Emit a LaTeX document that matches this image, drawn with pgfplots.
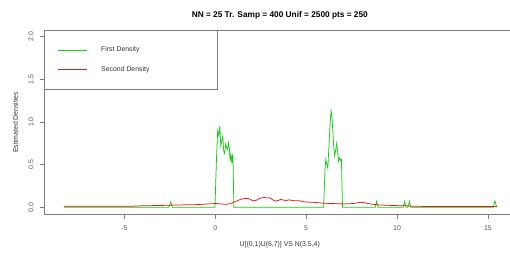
\documentclass[border=0pt]{standalone}
\usepackage{fontspec}
\setmainfont{Liberation Sans}
\usepackage{pgfplots}
\pgfplotsset{compat=1.18}
\definecolor{axgray}{RGB}{125,125,125}
\definecolor{tkgray}{RGB}{85,85,85}
\definecolor{rgreen}{RGB}{20,205,20}
\definecolor{rred}{RGB}{240,20,20}
\pgfplotstableread{
x y
-8.33 0
-2.56 0
-2.46 0.065
-2.36 0
-0.02 0
0.06 0.55
0.13 0.90
0.19 0.84
0.25 0.95
0.30 0.72
0.36 0.78
0.41 0.83
0.46 0.66
0.51 0.63
0.57 0.74
0.62 0.70
0.67 0.68
0.72 0.76
0.77 0.70
0.81 0.54
0.86 0.62
0.91 0.52
0.95 0.62
0.98 0.50
1.02 0.0
5.96 0
6.04 0.45
6.08 0.56
6.14 0.50
6.19 0.46
6.25 0.70
6.31 0.95
6.37 1.13
6.42 1.06
6.47 0.88
6.52 0.70
6.57 0.60
6.63 0.68
6.68 0.75
6.73 0.66
6.78 0.54
6.83 0.58
6.89 0.55
6.94 0.56
7.00 0.0
8.80 0
8.88 0.07
8.96 0
10.34 0
10.42 0.07
10.50 0
10.60 0
10.68 0.07
10.76 0
15.30 0
15.39 0.077
15.49 0
}\firstdens
\pgfplotstableread{
x y
-8.33 0.012
-6.0 0.012
-4.5 0.014
-4.0 0.018
-3.0 0.022
-2.0 0.028
-1.5 0.030
-1.0 0.032
-0.5 0.038
0.0 0.045
0.2 0.042
0.4 0.038
0.6 0.036
0.8 0.042
1.0 0.058
1.2 0.075
1.4 0.095
1.6 0.102
1.8 0.105
1.95 0.090
2.1 0.075
2.25 0.082
2.4 0.100
2.55 0.112
2.7 0.115
2.85 0.110
3.0 0.112
3.15 0.090
3.3 0.072
3.45 0.080
3.6 0.092
3.75 0.085
3.9 0.080
4.05 0.088
4.2 0.082
4.4 0.076
4.6 0.078
4.8 0.068
5.0 0.062
5.3 0.060
5.6 0.055
5.9 0.050
6.2 0.046
6.5 0.044
6.8 0.042
7.1 0.040
7.4 0.042
7.7 0.048
7.9 0.055
8.05 0.060
8.2 0.054
8.4 0.045
8.7 0.035
9.0 0.028
9.5 0.024
10.0 0.020
10.5 0.018
11.0 0.012
12.0 0.010
13.0 0.010
14.0 0.010
15.49 0.010
}\seconddens
\begin{document}
\begin{tikzpicture}[x=1bp,y=1bp]
\path[use as bounding box] (0,0) rectangle (510,257);
\begin{axis}[
  at={(44bp,42.5bp)}, anchor=south west,
  scale only axis, width=466bp, height=184.5bp,
  xmin=-9.43, xmax=16.22, ymin=-0.084, ymax=2.078,
  axis x line=box, axis y line=left,
  axis line style={-, draw=axgray, line width=0.6bp},
  xtick={-5,0,5,10,15}, ytick={0,0.5,1,1.5,2},
  xtick pos=left, ytick pos=left,
  tick align=outside, major tick length=4bp,
  tick style={draw=axgray, line width=0.6bp},
  /pgf/number format/assume math mode=true,
  yticklabel={\pgfmathprintnumber[fixed,fixed zerofill,precision=1]{\tick}},
  ticklabel style={font=\fontsize{6.9bp}{8bp}\selectfont, text=tkgray, inner sep=0pt},
  xticklabel style={anchor=center, yshift=-10bp},
  yticklabel style={rotate=90, anchor=center},
  yticklabel shift=9bp,
  title={NN = 25 Tr. Samp = 400 Unif = 2500 pts = 250},
  title style={at={([yshift=9bp]rel axis cs:0.506,1)}, anchor=center, font=\bfseries\fontsize{8.3bp}{10bp}\selectfont},
  xlabel={U[(0,1)U(6,7)] VS N(3.5,4)},
  xlabel style={at={([yshift=-30bp]rel axis cs:0.506,0)}, anchor=center, font=\fontsize{6.9bp}{8bp}\selectfont, text=black!80},
  ylabel={Estimated Densities},
  ylabel style={at={([xshift=-28.5bp]rel axis cs:0,0.5)}, anchor=center, font=\fontsize{6.9bp}{8bp}\selectfont, text=black!80},
]
\addplot[color=rgreen, line width=0.75bp] table[x=x,y=y] {\firstdens};
\addplot[color=rred, line width=0.75bp] table[x=x,y=y] {\seconddens};
% legend box (drawn as in the R plot)
\draw[draw=axgray, line width=0.6bp, fill=white] (rel axis cs:0,0.6802) rectangle (rel axis cs:0.3727,1);
\draw[rgreen, line width=1bp] (rel axis cs:0.0307,0.8889) -- (rel axis cs:0.0929,0.8889);
\draw[rred, line width=1bp] (rel axis cs:0.0307,0.7859) -- (rel axis cs:0.0929,0.7859);
\node[anchor=west, inner sep=0pt, font=\fontsize{6.9bp}{8bp}\selectfont, text=black!80] at (rel axis cs:0.1223,0.8916) {First Density};
\node[anchor=west, inner sep=0pt, font=\fontsize{6.9bp}{8bp}\selectfont, text=black!80] at (rel axis cs:0.1223,0.787) {Second Density};
\end{axis}
\end{tikzpicture}
\end{document}
